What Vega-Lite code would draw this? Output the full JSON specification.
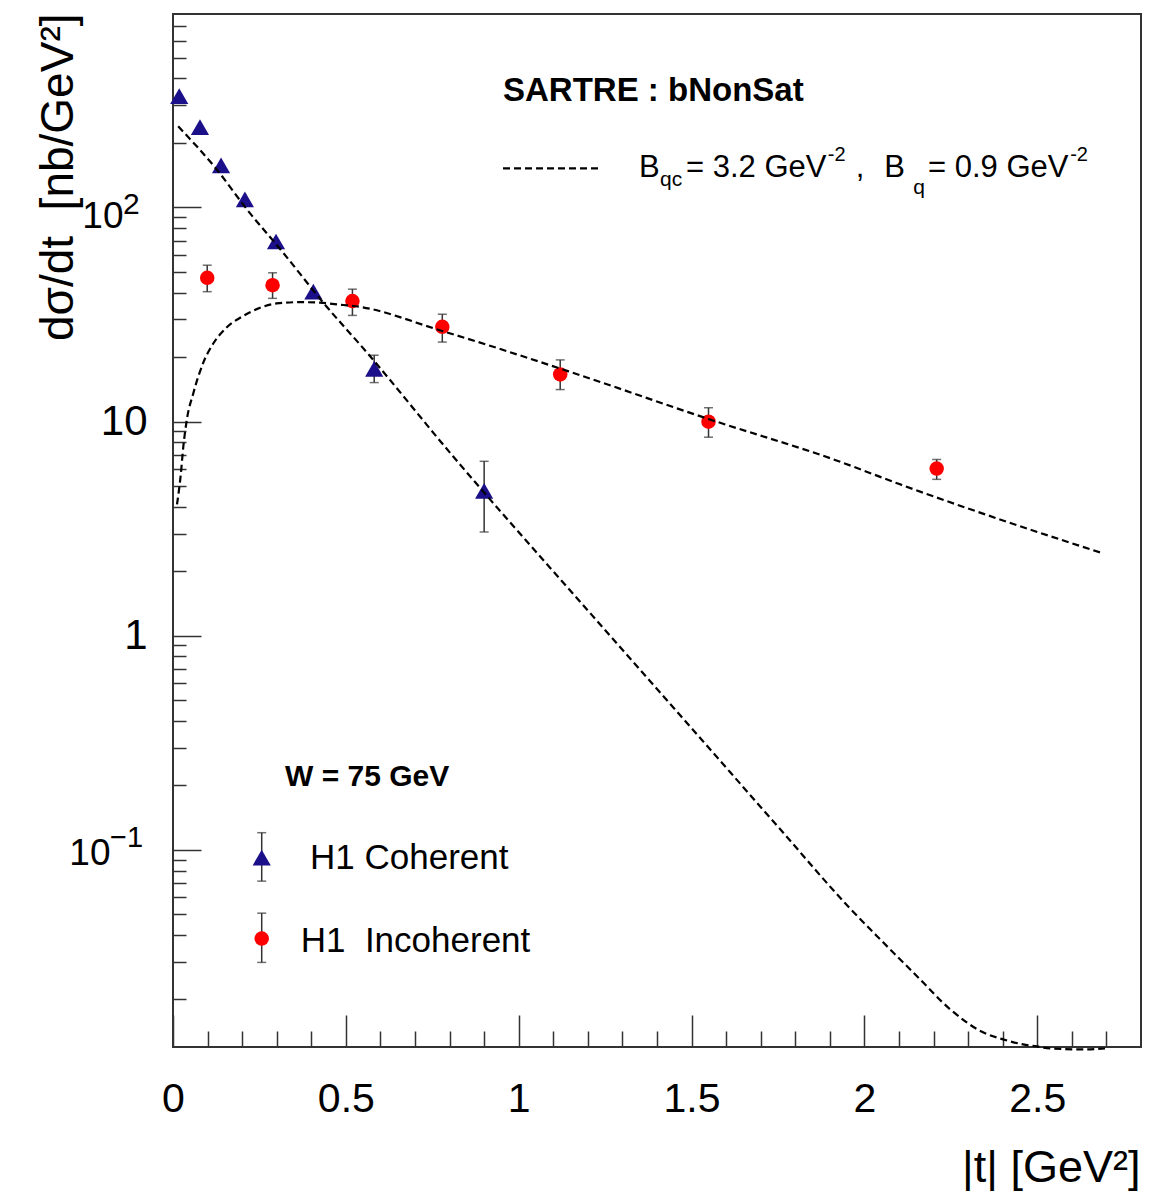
{
  "$schema": "https://vega.github.io/schema/vega-lite/v6.json",
  "width": 968,
  "height": 1033,
  "autosize": {"type": "none"},
  "padding": {"left": 173, "top": 14, "right": 16, "bottom": 144},
  "background": "white",
  "config": {
    "view": {"stroke": "#333333", "strokeWidth": 2},
    "font": "Liberation Sans",
    "axis": {"grid": false, "domain": false, "tickColor": "#333333", "tickWidth": 1.5, "labelColor": "#000000", "titleColor": "#000000", "labelFont": "Liberation Sans", "titleFont": "Liberation Sans", "titleFontWeight": "normal"}
  },
  "datasets": {
    "h1": [
      {"sample": "Coherent", "t": 0.018, "v": 331},
      {"sample": "Coherent", "t": 0.078, "v": 237},
      {"sample": "Coherent", "t": 0.139, "v": 157},
      {"sample": "Coherent", "t": 0.208, "v": 109},
      {"sample": "Coherent", "t": 0.298, "v": 69.3},
      {"sample": "Coherent", "t": 0.406, "v": 40.4},
      {"sample": "Coherent", "t": 0.582, "v": 17.6, "lo": 15.2, "hi": 20.4},
      {"sample": "Coherent", "t": 0.900, "v": 4.74, "lo": 3.05, "hi": 6.52},
      {"sample": "Incoherent", "t": 0.099, "v": 46.9, "lo": 40.4, "hi": 53.7},
      {"sample": "Incoherent", "t": 0.288, "v": 43.3, "lo": 37.6, "hi": 49.5},
      {"sample": "Incoherent", "t": 0.519, "v": 36.5, "lo": 31.3, "hi": 41.5},
      {"sample": "Incoherent", "t": 0.779, "v": 27.7, "lo": 23.5, "hi": 31.7},
      {"sample": "Incoherent", "t": 1.120, "v": 16.6, "lo": 14.1, "hi": 19.4},
      {"sample": "Incoherent", "t": 1.549, "v": 9.98, "lo": 8.45, "hi": 11.6},
      {"sample": "Incoherent", "t": 2.209, "v": 6.03, "lo": 5.37, "hi": 6.65}
    ],
    "sartre": [
      {"curve": "coherent", "t": 0.015, "v": 239},
      {"curve": "coherent", "t": 0.127, "v": 150},
      {"curve": "coherent", "t": 0.214, "v": 97.8},
      {"curve": "coherent", "t": 0.318, "v": 61.6},
      {"curve": "coherent", "t": 0.434, "v": 36.0},
      {"curve": "coherent", "t": 0.561, "v": 21.0},
      {"curve": "coherent", "t": 0.810, "v": 6.88},
      {"curve": "coherent", "t": 0.917, "v": 4.33},
      {"curve": "coherent", "t": 1.177, "v": 1.445},
      {"curve": "coherent", "t": 1.467, "v": 0.425},
      {"curve": "coherent", "t": 1.756, "v": 0.125},
      {"curve": "coherent", "t": 1.958, "v": 0.0533},
      {"curve": "coherent", "t": 2.054, "v": 0.0370},
      {"curve": "coherent", "t": 2.152, "v": 0.0257},
      {"curve": "coherent", "t": 2.248, "v": 0.0180},
      {"curve": "coherent", "t": 2.343, "v": 0.01406},
      {"curve": "coherent", "t": 2.401, "v": 0.01303},
      {"curve": "coherent", "t": 2.459, "v": 0.01234},
      {"curve": "coherent", "t": 2.499, "v": 0.01207},
      {"curve": "coherent", "t": 2.537, "v": 0.01181},
      {"curve": "coherent", "t": 2.632, "v": 0.01169},
      {"curve": "coherent", "t": 2.696, "v": 0.01181},
      {"curve": "incoherent", "t": 0.0116, "v": 4.1},
      {"curve": "incoherent", "t": 0.022, "v": 5.56},
      {"curve": "incoherent", "t": 0.030, "v": 7.67},
      {"curve": "incoherent", "t": 0.040, "v": 10.2},
      {"curve": "incoherent", "t": 0.059, "v": 13.6},
      {"curve": "incoherent", "t": 0.088, "v": 18.9},
      {"curve": "incoherent", "t": 0.117, "v": 23.2},
      {"curve": "incoherent", "t": 0.155, "v": 27.5},
      {"curve": "incoherent", "t": 0.203, "v": 31.1},
      {"curve": "incoherent", "t": 0.252, "v": 34.0},
      {"curve": "incoherent", "t": 0.300, "v": 35.6},
      {"curve": "incoherent", "t": 0.367, "v": 36.1},
      {"curve": "incoherent", "t": 0.425, "v": 35.9},
      {"curve": "incoherent", "t": 0.493, "v": 35.0},
      {"curve": "incoherent", "t": 0.519, "v": 34.7},
      {"curve": "incoherent", "t": 0.781, "v": 26.4},
      {"curve": "incoherent", "t": 1.142, "v": 17.2},
      {"curve": "incoherent", "t": 1.555, "v": 10.2},
      {"curve": "incoherent", "t": 1.917, "v": 6.6},
      {"curve": "incoherent", "t": 2.103, "v": 5.09},
      {"curve": "incoherent", "t": 2.392, "v": 3.49},
      {"curve": "incoherent", "t": 2.691, "v": 2.42}
    ]
  },
  "resolve": {"axis": {"x": "independent", "y": "independent"}},
  "layer": [
    {
      "data": {"name": "h1"},
      "transform": [{"filter": "isValid(datum.lo)"}],
      "mark": {"type": "rule", "color": "#333333", "strokeWidth": 1.5},
      "encoding": {
        "x": {"field": "t", "type": "quantitative", "scale": {"domain": [0, 2.8], "nice": false},
          "axis": {"orient": "bottom", "offset": 0, "values": [0, 0.5, 1, 1.5, 2, 2.5], "format": "~g", "ticks": false, "labelFontSize": 41, "labelPadding": 32, "labelBaseline": "top", "labelAlign": "center", "labelFlush": false, "labelOverlap": false, "labelBound": false,
            "title": "|t| [GeV²]", "titleFontSize": 45, "titleX": 967, "titleY": 134, "titleAlign": "right", "titleBaseline": "alphabetic", "titleAnchor": "end"}},
        "y": {"field": "lo", "type": "quantitative", "scale": {"type": "log", "domain": [0.012, 800], "nice": false},
          "axis": {"orient": "left", "offset": 0, "values": [0.1, 1, 10, 100], "ticks": false,
            "labelFontSize": {"condition": {"test": "datum.value > 50 || datum.value < 0.5", "value": 37}, "value": 42},
            "labelPadding": {"condition": [{"test": "datum.value > 50", "value": 50}, {"test": "datum.value < 0.5", "value": 63}], "value": 26},
            "labelOffset": {"condition": [{"test": "datum.value > 50", "value": 9}, {"test": "datum.value < 0.5", "value": 4}], "value": 0},
            "labelAlign": "right", "labelBaseline": "middle", "labelOverlap": false, "labelBound": false, "labelFlush": false,
            "labelExpr": "datum.value > 5 ? '10' : datum.value > 0.5 ? '1' : '10'",
            "title": "dσ/dt\u00a0 [nb/GeV²]", "titleFontSize": 46, "titleAngle": -90, "titleX": -101, "titleY": -1, "titleAlign": "right", "titleBaseline": "alphabetic"}},
        "y2": {"field": "hi"}
      }
    },
    {
      "data": {"name": "h1"},
      "transform": [{"filter": "isValid(datum.lo)"}],
      "mark": {"type": "tick", "orient": "horizontal", "size": 9, "thickness": 1.5, "color": "#333333"},
      "encoding": {
        "x": {"field": "t", "type": "quantitative", "scale": {"domain": [0, 2.8], "nice": false},
          "axis": {"orient": "bottom", "offset": 0, "values": [0, 0.5, 1, 1.5, 2, 2.5], "labels": false, "tickSize": -32, "title": null}},
        "y": {"field": "lo", "type": "quantitative", "scale": {"type": "log", "domain": [0.012, 800], "nice": false},
          "axis": {"orient": "left", "offset": 0, "values": [0.1, 1, 10, 100], "labels": false, "tickSize": -28, "title": null}}
      }
    },
    {
      "data": {"name": "h1"},
      "transform": [{"filter": "isValid(datum.hi)"}],
      "mark": {"type": "tick", "orient": "horizontal", "size": 9, "thickness": 1.5, "color": "#333333"},
      "encoding": {
        "x": {"field": "t", "type": "quantitative", "scale": {"domain": [0, 2.8], "nice": false},
          "axis": {"orient": "bottom", "offset": 0, "values": [0.1, 0.2, 0.3, 0.4, 0.6, 0.7, 0.8, 0.9, 1.1, 1.2, 1.3, 1.4, 1.6, 1.7, 1.8, 1.9, 2.1, 2.2, 2.3, 2.4, 2.6, 2.7], "labels": false, "tickSize": -16, "title": null}},
        "y": {"field": "hi", "type": "quantitative", "scale": {"type": "log", "domain": [0.012, 800], "nice": false},
          "axis": {"orient": "left", "offset": 0, "values": [0.02, 0.03, 0.04, 0.05, 0.06, 0.07, 0.08, 0.09, 0.2, 0.3, 0.4, 0.5, 0.6, 0.7, 0.8, 0.9, 2, 3, 4, 5, 6, 7, 8, 9, 20, 30, 40, 50, 60, 70, 80, 90, 200, 300, 400, 500, 600, 700], "labels": false, "tickSize": -13, "title": null}}
      }
    },
    {
      "data": {"name": "h1"},
      "transform": [{"filter": "datum.sample === 'Coherent'"}],
      "mark": {"type": "point", "shape": "triangle-up", "filled": true, "color": "#1b0f8a", "opacity": 1, "size": 330, "strokeWidth": 0},
      "encoding": {
        "x": {"field": "t", "type": "quantitative", "scale": {"domain": [0, 2.8], "nice": false}, "axis": null},
        "y": {"field": "v", "type": "quantitative", "scale": {"type": "log", "domain": [0.012, 800], "nice": false}, "axis": null}
      }
    },
    {
      "data": {"name": "h1"},
      "transform": [{"filter": "datum.sample === 'Incoherent'"}],
      "mark": {"type": "point", "shape": "circle", "filled": true, "color": "#ff0000", "opacity": 1, "size": 210, "strokeWidth": 0},
      "encoding": {
        "x": {"field": "t", "type": "quantitative", "scale": {"domain": [0, 2.8], "nice": false}, "axis": null},
        "y": {"field": "v", "type": "quantitative", "scale": {"type": "log", "domain": [0.012, 800], "nice": false}, "axis": null}
      }
    },
    {
      "data": {"name": "sartre"},
      "mark": {"type": "line", "color": "#000000", "strokeWidth": 2.2, "strokeDash": [7, 4], "interpolate": "monotone", "clip": false},
      "encoding": {
        "x": {"field": "t", "type": "quantitative", "scale": {"domain": [0, 2.8], "nice": false}, "axis": null},
        "y": {"field": "v", "type": "quantitative", "scale": {"type": "log", "domain": [0.012, 800], "nice": false}, "axis": null},
        "detail": {"field": "curve", "type": "nominal"}
      }
    },
    {
      "data": {"values": [{}]},
      "mark": {"type": "text", "text": "2", "align": "left", "baseline": "alphabetic", "font": "Liberation Sans", "fontSize": 30, "color": "#000000"},
      "encoding": {
        "x": {"datum": -0.1446, "type": "quantitative", "scale": {"domain": [0, 2.8], "nice": false}, "axis": null},
        "y": {"datum": 92.7, "type": "quantitative", "scale": {"type": "log", "domain": [0.012, 800], "nice": false}, "axis": null}
      }
    },
    {
      "data": {"values": [{}]},
      "mark": {"type": "text", "text": "−1", "align": "left", "baseline": "alphabetic", "font": "Liberation Sans", "fontSize": 29, "color": "#000000"},
      "encoding": {
        "x": {"datum": -0.182, "type": "quantitative", "scale": {"domain": [0, 2.8], "nice": false}, "axis": null},
        "y": {"datum": 0.1027, "type": "quantitative", "scale": {"type": "log", "domain": [0.012, 800], "nice": false}, "axis": null}
      }
    },
    {
      "data": {"values": [{}]},
      "mark": {"type": "rule", "color": "#000000", "strokeWidth": 2.2, "strokeDash": [7, 4]},
      "encoding": {
        "x": {"datum": 0.9546, "type": "quantitative", "scale": {"domain": [0, 2.8], "nice": false}, "axis": null},
        "x2": {"datum": 1.241},
        "y": {"datum": 152, "type": "quantitative", "scale": {"type": "log", "domain": [0.012, 800], "nice": false}, "axis": null}
      }
    },
    {
      "data": {"values": [{}]},
      "mark": {"type": "text", "text": "SARTRE : bNonSat", "align": "left", "baseline": "alphabetic", "font": "Liberation Sans", "fontSize": 33, "fontWeight": "bold", "color": "#000000"},
      "encoding": {
        "x": {"datum": 0.9546, "type": "quantitative", "scale": {"domain": [0, 2.8], "nice": false}, "axis": null},
        "y": {"datum": 313, "type": "quantitative", "scale": {"type": "log", "domain": [0.012, 800], "nice": false}, "axis": null}
      }
    },
    {
      "data": {"values": [{}]},
      "mark": {"type": "text", "text": "B", "align": "left", "baseline": "alphabetic", "font": "Liberation Sans", "fontSize": 31, "color": "#000000"},
      "encoding": {
        "x": {"datum": 1.348, "type": "quantitative", "scale": {"domain": [0, 2.8], "nice": false}, "axis": null},
        "y": {"datum": 139, "type": "quantitative", "scale": {"type": "log", "domain": [0.012, 800], "nice": false}, "axis": null}
      }
    },
    {
      "data": {"values": [{}]},
      "mark": {"type": "text", "text": "qc", "align": "left", "baseline": "alphabetic", "font": "Liberation Sans", "fontSize": 21, "color": "#000000"},
      "encoding": {
        "x": {"datum": 1.409, "type": "quantitative", "scale": {"domain": [0, 2.8], "nice": false}, "axis": null},
        "y": {"datum": 126, "type": "quantitative", "scale": {"type": "log", "domain": [0.012, 800], "nice": false}, "axis": null}
      }
    },
    {
      "data": {"values": [{}]},
      "mark": {"type": "text", "text": "= 3.2 GeV", "align": "left", "baseline": "alphabetic", "font": "Liberation Sans", "fontSize": 31, "color": "#000000"},
      "encoding": {
        "x": {"datum": 1.484, "type": "quantitative", "scale": {"domain": [0, 2.8], "nice": false}, "axis": null},
        "y": {"datum": 139, "type": "quantitative", "scale": {"type": "log", "domain": [0.012, 800], "nice": false}, "axis": null}
      }
    },
    {
      "data": {"values": [{}]},
      "mark": {"type": "text", "text": "-2", "align": "left", "baseline": "alphabetic", "font": "Liberation Sans", "fontSize": 20, "color": "#000000"},
      "encoding": {
        "x": {"datum": 1.894, "type": "quantitative", "scale": {"domain": [0, 2.8], "nice": false}, "axis": null},
        "y": {"datum": 164, "type": "quantitative", "scale": {"type": "log", "domain": [0.012, 800], "nice": false}, "axis": null}
      }
    },
    {
      "data": {"values": [{}]},
      "mark": {"type": "text", "text": ",", "align": "left", "baseline": "alphabetic", "font": "Liberation Sans", "fontSize": 31, "color": "#000000"},
      "encoding": {
        "x": {"datum": 1.975, "type": "quantitative", "scale": {"domain": [0, 2.8], "nice": false}, "axis": null},
        "y": {"datum": 139, "type": "quantitative", "scale": {"type": "log", "domain": [0.012, 800], "nice": false}, "axis": null}
      }
    },
    {
      "data": {"values": [{}]},
      "mark": {"type": "text", "text": "B", "align": "left", "baseline": "alphabetic", "font": "Liberation Sans", "fontSize": 31, "color": "#000000"},
      "encoding": {
        "x": {"datum": 2.057, "type": "quantitative", "scale": {"domain": [0, 2.8], "nice": false}, "axis": null},
        "y": {"datum": 139, "type": "quantitative", "scale": {"type": "log", "domain": [0.012, 800], "nice": false}, "axis": null}
      }
    },
    {
      "data": {"values": [{}]},
      "mark": {"type": "text", "text": "q", "align": "left", "baseline": "alphabetic", "font": "Liberation Sans", "fontSize": 21, "color": "#000000"},
      "encoding": {
        "x": {"datum": 2.141, "type": "quantitative", "scale": {"domain": [0, 2.8], "nice": false}, "axis": null},
        "y": {"datum": 116, "type": "quantitative", "scale": {"type": "log", "domain": [0.012, 800], "nice": false}, "axis": null}
      }
    },
    {
      "data": {"values": [{}]},
      "mark": {"type": "text", "text": "= 0.9 GeV", "align": "left", "baseline": "alphabetic", "font": "Liberation Sans", "fontSize": 31, "color": "#000000"},
      "encoding": {
        "x": {"datum": 2.184, "type": "quantitative", "scale": {"domain": [0, 2.8], "nice": false}, "axis": null},
        "y": {"datum": 139, "type": "quantitative", "scale": {"type": "log", "domain": [0.012, 800], "nice": false}, "axis": null}
      }
    },
    {
      "data": {"values": [{}]},
      "mark": {"type": "text", "text": "-2", "align": "left", "baseline": "alphabetic", "font": "Liberation Sans", "fontSize": 20, "color": "#000000"},
      "encoding": {
        "x": {"datum": 2.595, "type": "quantitative", "scale": {"domain": [0, 2.8], "nice": false}, "axis": null},
        "y": {"datum": 164, "type": "quantitative", "scale": {"type": "log", "domain": [0.012, 800], "nice": false}, "axis": null}
      }
    },
    {
      "data": {"values": [{}]},
      "mark": {"type": "text", "text": "W = 75 GeV", "align": "left", "baseline": "alphabetic", "font": "Liberation Sans", "fontSize": 30, "fontWeight": "bold", "color": "#000000"},
      "encoding": {
        "x": {"datum": 0.324, "type": "quantitative", "scale": {"domain": [0, 2.8], "nice": false}, "axis": null},
        "y": {"datum": 0.1986, "type": "quantitative", "scale": {"type": "log", "domain": [0.012, 800], "nice": false}, "axis": null}
      }
    },
    {
      "data": {"values": [{}]},
      "mark": {"type": "rule", "color": "#333333", "strokeWidth": 1.5},
      "encoding": {
        "x": {"datum": 0.2566, "type": "quantitative", "scale": {"domain": [0, 2.8], "nice": false}, "axis": null},
        "y": {"datum": 0.0714, "type": "quantitative", "scale": {"type": "log", "domain": [0.012, 800], "nice": false}, "axis": null},
        "y2": {"datum": 0.1202}
      }
    },
    {
      "data": {"values": [{}]},
      "mark": {"type": "tick", "orient": "horizontal", "size": 9, "thickness": 1.5, "color": "#333333"},
      "encoding": {
        "x": {"datum": 0.2566, "type": "quantitative", "scale": {"domain": [0, 2.8], "nice": false}, "axis": null},
        "y": {"datum": 0.0714, "type": "quantitative", "scale": {"type": "log", "domain": [0.012, 800], "nice": false}, "axis": null}
      }
    },
    {
      "data": {"values": [{}]},
      "mark": {"type": "tick", "orient": "horizontal", "size": 9, "thickness": 1.5, "color": "#333333"},
      "encoding": {
        "x": {"datum": 0.2566, "type": "quantitative", "scale": {"domain": [0, 2.8], "nice": false}, "axis": null},
        "y": {"datum": 0.1202, "type": "quantitative", "scale": {"type": "log", "domain": [0.012, 800], "nice": false}, "axis": null}
      }
    },
    {
      "data": {"values": [{}]},
      "mark": {"type": "point", "shape": "triangle-up", "filled": true, "color": "#1b0f8a", "opacity": 1, "size": 330, "strokeWidth": 0},
      "encoding": {
        "x": {"datum": 0.2566, "type": "quantitative", "scale": {"domain": [0, 2.8], "nice": false}, "axis": null},
        "y": {"datum": 0.0920, "type": "quantitative", "scale": {"type": "log", "domain": [0.012, 800], "nice": false}, "axis": null}
      }
    },
    {
      "data": {"values": [{}]},
      "mark": {"type": "text", "text": "H1 Coherent", "align": "left", "baseline": "alphabetic", "font": "Liberation Sans", "fontSize": 35, "color": "#000000"},
      "encoding": {
        "x": {"datum": 0.3963, "type": "quantitative", "scale": {"domain": [0, 2.8], "nice": false}, "axis": null},
        "y": {"datum": 0.0817, "type": "quantitative", "scale": {"type": "log", "domain": [0.012, 800], "nice": false}, "axis": null}
      }
    },
    {
      "data": {"values": [{}]},
      "mark": {"type": "rule", "color": "#333333", "strokeWidth": 1.5},
      "encoding": {
        "x": {"datum": 0.2566, "type": "quantitative", "scale": {"domain": [0, 2.8], "nice": false}, "axis": null},
        "y": {"datum": 0.0298, "type": "quantitative", "scale": {"type": "log", "domain": [0.012, 800], "nice": false}, "axis": null},
        "y2": {"datum": 0.0506}
      }
    },
    {
      "data": {"values": [{}]},
      "mark": {"type": "tick", "orient": "horizontal", "size": 9, "thickness": 1.5, "color": "#333333"},
      "encoding": {
        "x": {"datum": 0.2566, "type": "quantitative", "scale": {"domain": [0, 2.8], "nice": false}, "axis": null},
        "y": {"datum": 0.0298, "type": "quantitative", "scale": {"type": "log", "domain": [0.012, 800], "nice": false}, "axis": null}
      }
    },
    {
      "data": {"values": [{}]},
      "mark": {"type": "tick", "orient": "horizontal", "size": 9, "thickness": 1.5, "color": "#333333"},
      "encoding": {
        "x": {"datum": 0.2566, "type": "quantitative", "scale": {"domain": [0, 2.8], "nice": false}, "axis": null},
        "y": {"datum": 0.0506, "type": "quantitative", "scale": {"type": "log", "domain": [0.012, 800], "nice": false}, "axis": null}
      }
    },
    {
      "data": {"values": [{}]},
      "mark": {"type": "point", "shape": "circle", "filled": true, "color": "#ff0000", "opacity": 1, "size": 210, "strokeWidth": 0},
      "encoding": {
        "x": {"datum": 0.2566, "type": "quantitative", "scale": {"domain": [0, 2.8], "nice": false}, "axis": null},
        "y": {"datum": 0.0385, "type": "quantitative", "scale": {"type": "log", "domain": [0.012, 800], "nice": false}, "axis": null}
      }
    },
    {
      "data": {"values": [{}]},
      "mark": {"type": "text", "text": "H1\u00a0 Incoherent", "align": "left", "baseline": "alphabetic", "font": "Liberation Sans", "fontSize": 35, "color": "#000000"},
      "encoding": {
        "x": {"datum": 0.3694, "type": "quantitative", "scale": {"domain": [0, 2.8], "nice": false}, "axis": null},
        "y": {"datum": 0.0332, "type": "quantitative", "scale": {"type": "log", "domain": [0.012, 800], "nice": false}, "axis": null}
      }
    }
  ]
}
